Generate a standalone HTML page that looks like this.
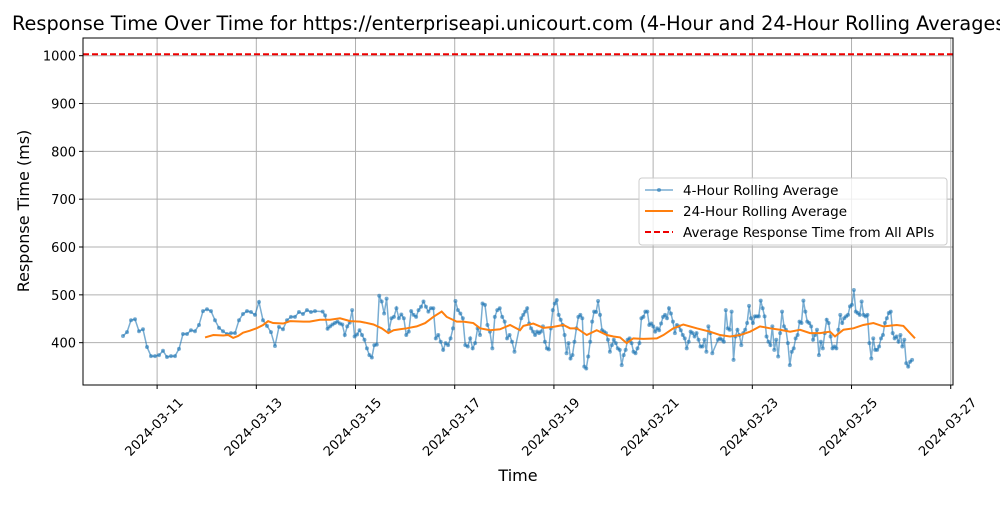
<!DOCTYPE html>
<html><head><meta charset="utf-8"><style>
body{margin:0;background:#fff;overflow:hidden;}
svg text{font-family:"DejaVu Sans","Liberation Sans",sans-serif;fill:#000;}
</style></head><body>
<svg id="chart" width="1000" height="500" viewBox="0 0 1000 500" xmlns="http://www.w3.org/2000/svg">
<text x="12" y="30" font-size="19.3">Response Time Over Time for https://enterpriseapi.unicourt.com (4-Hour and 24-Hour Rolling Averages)</text>
<g id="grid"></g>
<g id="series"></g>
<rect x="83" y="38" width="870" height="347" fill="none" stroke="#000" stroke-width="1"/>
<g id="axes"></g>
<text x="518" y="481" font-size="16" text-anchor="middle">Time</text>
<text transform="translate(29,211) rotate(-90)" font-size="16" text-anchor="middle">Response Time (ms)</text>
<g>
<rect x="639" y="178" width="308" height="67" rx="3" fill="#fff" fill-opacity="0.8" stroke="#ccc"/>
<g><line x1="645" y1="190" x2="673" y2="190" stroke="#1f77b4" stroke-opacity="0.6" stroke-width="1.5"/><circle cx="659" cy="190" r="2" fill="#1f77b4" fill-opacity="0.6"/><text x="683" y="195" font-size="13.5">4-Hour Rolling Average</text></g>
<g><line x1="645" y1="211" x2="673" y2="211" stroke="#ff7f0e" stroke-width="2"/><text x="683" y="216" font-size="13.5">24-Hour Rolling Average</text></g>
<g><line x1="645" y1="232" x2="673" y2="232" stroke="#e00" stroke-width="2" stroke-dasharray="6,3"/><text x="683" y="237" font-size="13.5">Average Response Time from All APIs</text></g>
</g>
</svg>
<script>
// hour offsets are from 2024-03-10 07:30
const yTicks=[400,500,600,700,800,900,1000];
const xTickLabels=["2024-03-11","2024-03-13","2024-03-15","2024-03-17","2024-03-19","2024-03-21","2024-03-23","2024-03-25","2024-03-27"];
const xTickHours=[16.5,64.5,112.5,160.5,208.5,256.5,304.5,352.5,400.5];
const avgAllApis=1003;
const seg1Start=0, seg1Step=1.935;
const seg1Values=[414,422,447,449,424,428,391,372,372,374,383,370,372,372,387,418,418,426,424,437,466,470,466,447,431,424,418,420,420,447,460,466,464,458,485,447,435,422,393,433,428,447,454,454,464,460,468,464,466];
const seg2Start=96.6, seg2Step=1.19;
const seg2Values=[465,457,429,434,438,441,444,440,438,416,434,442,468,413,417,426,416,406,388,374,369,395,396,498,486,461,492,426,451,454,472,451,459,451,416,423,466,458,454,468,475,486,475,465,472,472,409,416,402,385,399,395,409,430,487,468,461,451,395,392,409,388,399,430,416,482,479,437,423,388,454,468,472,454,444,409,416,402,381];
const seg3Start=192.7, seg3Step=0.953;
const seg3Values=[451,458,465,472,440,430,423,416,423,420,423,434,402,388,386,430,468,482,489,458,448,437,416,378,399,367,374,402,430,454,458,451,350,346,371,402,444,465,464,487,458,426,423,420,406,381,395,406,399,388,385,353,374,385,406,409,399,381,378,388,399,451,454,465,465,437,440,434,423,430,426,440,454,458,451,472,461,444,420,437,434,426,416,409,388,402,423,420,413,420,406,392,392,406,381,434,420,378];
const seg4Start=287.9, seg4Step=0.939;
const seg4Values=[406,409,406,402,468,430,427,465,364,413,427,416,395,420,427,441,477,451,441,455,455,455,488,472,455,413,402,395,434,385,406,371,420,465,434,427,399,353,381,388,409,416,444,441,488,465,444,441,434,406,416,427,374,402,388,420,448,441,413,388,392,388,427,458,441,451,455,458,476,479,510,465,462,458,486,458,455,458,399,367,409,385,385,392,409,416,441,451,462,465,420,409,413,402,416,392,406,357,350,360,364];
const dailyHours=[39.7,43.7,48.5,50.9,53.3,55.7,58.1,61.4,64.6,67.8,70.2,72.6,77.5,80.8,87.3,90.3,95.3,100.2,105.0,109.9,114.7,117.1,121.2,125.2,128.4,130.9,134.0,137.3,142.1,146.2,150.2,154.2,156.6,161.5,164.7,169.5,172.8,177.6,182.4,187.3,192.1,193.7,198.5,203.4,208.2,213.1,216.3,219.6,224.4,229.2,234.1,237.3,240.5,243.7,246.9,251.8,258.3,261.5,266.3,271.1,277.6,284.0,288.9,293.7,298.6,303.4,308.2,313.1,317.9,322.8,327.6,332.4,337.3,342.1,344.5,348.6,353.4,358.2,363.1,367.9,374.4,377.6,380.8,383.2];
const dailyValues=[411,416,415,416,410,414,421,425,430,437,445,441,440,445,444,444,448,448,451,445,444,442,438,430,420,426,428,430,434,441,454,465,454,444,444,441,430,426,428,437,426,435,440,431,433,437,430,430,416,426,416,413,411,399,409,408,409,416,430,438,430,423,416,413,416,423,434,430,427,423,427,420,420,423,413,427,430,437,441,434,437,435,420,409];

const L=83,R=953,T=38,B=385;
const hMin=-19.36,hMax=401.6,vMin=311.5,vMax=1037;
const xS=h=>L+(h-hMin)/(hMax-hMin)*(R-L);
const yS=v=>B-(v-vMin)/(vMax-vMin)*(B-T);
const NS="http://www.w3.org/2000/svg";
function mk(tag,parent,attrs){const e=document.createElementNS(NS,tag);for(const k in attrs)e.setAttribute(k,attrs[k]);parent.appendChild(e);return e;}
const grid=document.getElementById('grid'),axes=document.getElementById('axes'),series=document.getElementById('series');
yTicks.forEach(v=>{const y=yS(v);
 const g=mk('line',grid,{x1:L,x2:R,y1:y,y2:y,stroke:'#b0b0b0','stroke-width':1});
 
 
 const t=mk('line',axes,{x1:L-4,x2:L,y1:y,y2:y,stroke:'#000'});
 
 
 const tx=mk('text',axes,{x:L-7,y:y+5,'font-size':13,'text-anchor':'end'});tx.textContent=v;
 
 
});
xTickHours.forEach((h,i)=>{const x=xS(h);
 const g=mk('line',grid,{x1:x,x2:x,y1:T,y2:B,stroke:'#b0b0b0','stroke-width':1});
 
 
 const t=mk('line',axes,{x1:x,x2:x,y1:B,y2:B+4,stroke:'#000'});
 
 
 const tx=mk('text',axes,{transform:`translate(${x},${B+45}) rotate(-45)`,'font-size':13,'text-anchor':'middle'});tx.textContent=xTickLabels[i];
 
 
});
const pts=[];
[[seg1Start,seg1Step,seg1Values],[seg2Start,seg2Step,seg2Values],[seg3Start,seg3Step,seg3Values],[seg4Start,seg4Step,seg4Values]].forEach(([s,st,vals])=>vals.forEach((v,i)=>pts.push([xS(s+i*st),yS(v)])));
const l4=mk('polyline',series,{points:pts.map(p=>p.join(',')).join(' '),fill:'none',stroke:'#1f77b4','stroke-opacity':0.6,'stroke-width':1.5});


pts.forEach(p=>{const c=mk('circle',series,{cx:p[0],cy:p[1],r:2,fill:'#1f77b4','fill-opacity':0.6});
 
 });
const l24=mk('polyline',series,{points:dailyHours.map((h,i)=>xS(h)+','+yS(dailyValues[i])).join(' '),fill:'none',stroke:'#ff7f0e','stroke-width':2});


const av=mk('line',series,{x1:L,x2:R,y1:yS(avgAllApis),y2:yS(avgAllApis),stroke:'#e00','stroke-width':2,'stroke-dasharray':'6,3'});


</script>
</body></html>
